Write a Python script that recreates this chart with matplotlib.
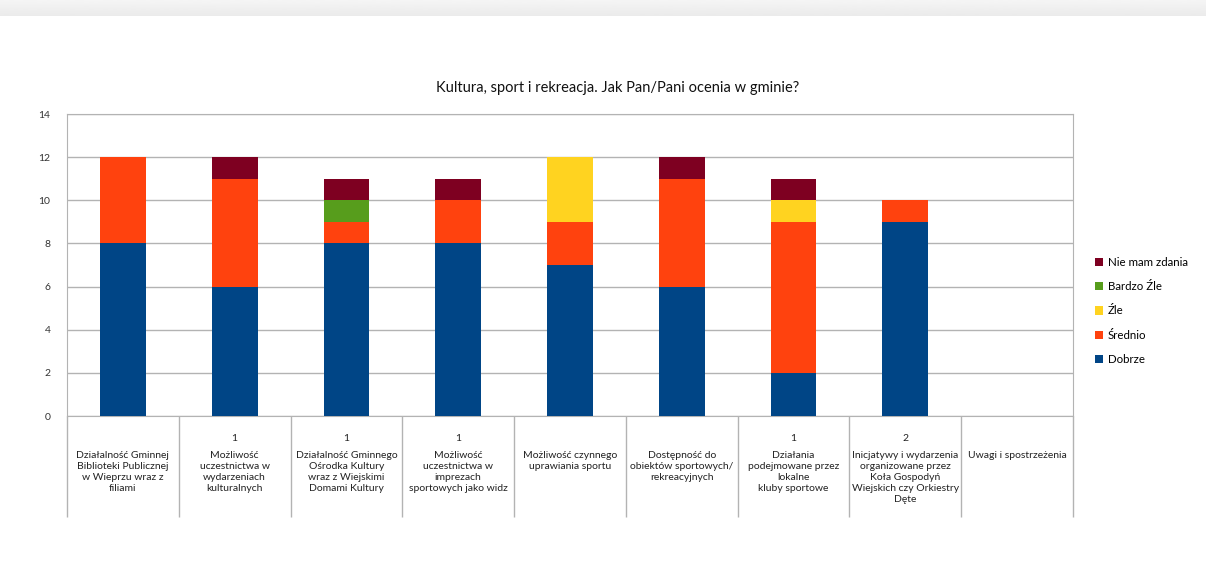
import matplotlib.pyplot as plt
import numpy as np

plt.rcParams['font.family'] = ['Lato', 'DejaVu Sans']

categories = [
    'Działalność Gminnej\nBiblioteki Publicznej\nw Wieprzu wraz z\nfiliami',
    'Możliwość\nuczestnictwa w\nwydarzeniach\nkulturalnych',
    'Działalność Gminnego\nOśrodka Kultury\nwraz z Wiejskimi\nDomami Kultury',
    'Możliwość\nuczestnictwa w\nimprezach\nsportowych jako widz',
    'Możliwość czynnego\nuprawiania sportu',
    'Dostępność do\nobiektów sportowych/\nrekreacyjnych',
    'Działania\npodejmowane przez\nlokalne\nkluby sportowe',
    'Inicjatywy i wydarzenia\norganizowane przez\nKoła Gospodyń\nWiejskich czy Orkiestry\nDęte',
    'Uwagi i spostrzeżenia',
]
header = ['', '1', '1', '1', '', '', '1', '2', '']

dobrze = [8, 6, 8, 8, 7, 6, 2, 9, 0]
srednio = [4, 5, 1, 2, 2, 5, 7, 1, 0]
zle = [0, 0, 0, 0, 3, 0, 1, 0, 0]
bardzo_zle = [0, 0, 1, 0, 0, 0, 0, 0, 0]
nie_mam = [0, 1, 1, 1, 0, 1, 1, 0, 0]

series = [
    ('Dobrze', dobrze, '#004586'),
    ('Średnio', srednio, '#ff420e'),
    ('Źle', zle, '#ffd320'),
    ('Bardzo Źle', bardzo_zle, '#579d1c'),
    ('Nie mam zdania', nie_mam, '#7e0021'),
]

fig = plt.figure(figsize=(12.06, 5.67), dpi=100)

# grey screenshot band at the top
bg = fig.add_axes([0, 0.972, 1, 0.028])
bg.imshow(np.linspace(0.96, 0.92, 20).reshape(-1, 1), cmap='gray', vmin=0, vmax=1,
          aspect='auto', extent=[0, 1, 0, 1])
bg.axis('off')

ax = fig.add_axes([67 / 1206, 151 / 567, (1073 - 67) / 1206, (416 - 114) / 567])

x = np.arange(len(categories))
bottom = np.zeros(len(categories))
handles = []
for name, vals, col in series:
    vals = np.array(vals, dtype=float)
    b = ax.bar(x, vals, 0.41, bottom=bottom, color=col, label=name, zorder=3)
    handles.append(b)
    bottom += vals

grid = '#b3b3b3'
ax.set_xlim(-0.5, len(categories) - 0.5)
ax.set_ylim(0, 14)
ax.set_yticks(range(0, 15, 2))
ax.yaxis.grid(True, color=grid, linewidth=1, zorder=0)
ax.tick_params(axis='y', length=0, pad=12, labelsize=7.5, colors='#333333')
for s in ax.spines.values():
    s.set_color(grid)

ax.set_xticks([])
ax.set_xticks(np.arange(-0.5, len(categories)), minor=True)
ax.tick_params(axis='x', which='minor', length=73, color=grid, width=1, direction='out', labelbottom=False)

for i, (lab, h) in enumerate(zip(categories, header)):
    if h:
        ax.annotate(h, xy=(i, 0), xycoords=('data', 'axes fraction'), xytext=(0, -16),
                    textcoords='offset points', ha='center', va='center', fontsize=7.5, color='#222222')
    ax.annotate(lab, xy=(i, 0), xycoords=('data', 'axes fraction'), xytext=(0, -25),
                textcoords='offset points', ha='center', va='top', fontsize=7.5, color='#222222',
                linespacing=1.3)

fig.text(618 / 1206, 1 - 88 / 567, 'Kultura, sport i rekreacja. Jak Pan/Pani ocenia w gminie?',
         ha='center', va='center', fontsize=10.5, color='#111111')

fig.legend(handles[::-1], [s[0] for s in series][::-1], loc='center left',
           bbox_to_anchor=(1085 / 1206, 1 - 311 / 567), frameon=False, fontsize=8.3,
           handlelength=0.7, handleheight=0.7, handletextpad=0.4, labelspacing=1.15)

fig.savefig('out.png', dpi=100)
